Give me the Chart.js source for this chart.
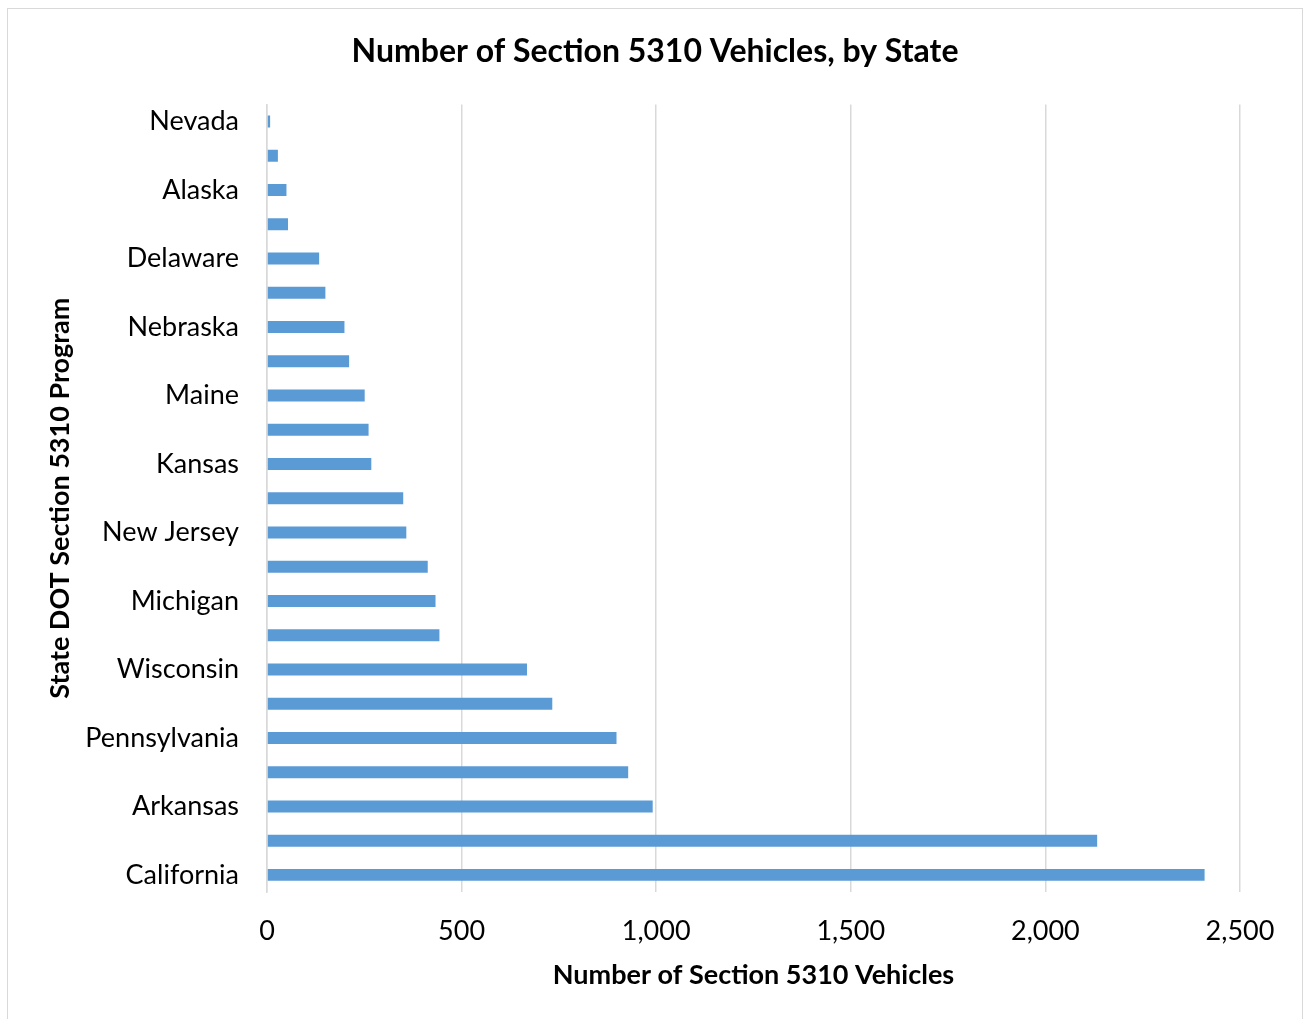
<!DOCTYPE html>
<html>
<head>
<meta charset="utf-8">
<script src="https://cdn.jsdelivr.net/npm/chart.js@4.4.1/dist/chart.umd.min.js"></script>
<style>
  body { margin: 0; background: #fff; }
  #wrap { position: relative; width: 1304px; height: 1019px; overflow: hidden; }
  #frame { position: absolute; left: 7px; top: 8px; width: 1294px; height: 1030px; border: 1px solid #d9d9d9; pointer-events: none; }
  canvas { position: absolute; left: 0; top: 0; }
</style>
</head>
<body>
<div id="wrap">
  <canvas id="stateChart" width="1304" height="1019"></canvas>
  <div id="frame"></div>
</div>
<script>
let states = ['Nevada', 'Rhode Island', 'Alaska', 'Wyoming', 'Delaware', 'Vermont', 'Nebraska', 'Idaho',
  'Maine', 'Oregon', 'Kansas', 'Iowa', 'New Jersey', 'Virginia', 'Michigan', 'Minnesota',
  'Wisconsin', 'Ohio', 'Pennsylvania', 'Florida', 'Arkansas', 'New York', 'California'];
let vehicles = [8, 28, 50, 54, 134, 150, 199, 211, 251, 261, 268, 350, 358, 413, 433, 443,
  668, 733, 898, 928, 991, 2133, 2409];
let xMin = 0, xMax = 2500, xStep = 500;

let fontFamily = 'Lato, "Open Sans", sans-serif';

let stateChartCanvas = document.getElementById('stateChart').getContext('2d');

let stateData = {
  labels: states,
  datasets: [
    {
      label           : 'Number of Section 5310 Vehicles',
      data            : vehicles,
      backgroundColor : '#5b9bd5',
      borderWidth     : 0,
      barPercentage   : 0.35,
      categoryPercentage: 1
    }
  ]
};

let stateOptions = {
  indexAxis: 'y',
  responsive: false,
  animation: false,
  layout: { padding: { left: 70, right: 64, top: 0, bottom: 0 } },
  plugins: {
    legend: { display: false },
    tooltip: { enabled: false },
    title: {
      display: true,
      text: 'Number of Section 5310 Vehicles, by State',
      color: '#000',
      font: { family: fontFamily, size: 32, weight: 'bold' },
      padding: { top: 32, bottom: 34 }
    }
  },
  scales: {
    x: {
      min: xMin,
      max: xMax,
      ticks: {
        stepSize: xStep,
        color: '#000',
        padding: 23,
        font: { family: fontFamily, size: 27 },
        callback: function (value) { return value.toLocaleString('en-US'); }
      },
      grid: { color: '#d9d9d9', lineWidth: 1.5, drawTicks: false },
      border: { display: false },
      title: {
        display: true,
        text: 'Number of Section 5310 Vehicles',
        color: '#000',
        font: { family: fontFamily, size: 27, weight: 'bold' },
        padding: { top: 0, bottom: 28 }
      },
      afterFit: function (scale) { scale.height = 1019 - 892; }
    },
    y: {
      ticks: {
        autoSkip: false,
        color: '#000',
        padding: 28,
        font: { family: fontFamily, size: 27 },
        callback: function (value, index) { return index % 2 === 0 ? states[index] : ''; }
      },
      grid: { display: false, drawTicks: false },
      border: { display: true, color: '#d9d9d9', width: 1.5 },
      title: {
        display: true,
        text: 'State DOT Section 5310 Program',
        color: '#000',
        font: { family: fontFamily, size: 27, weight: 'bold' },
        padding: { top: -26, bottom: 0 }
      },
      afterFit: function (scale) { scale.width = 267 - 70; }
    }
  }
};

new Chart(stateChartCanvas, {
  type: 'bar',
  data: stateData,
  options: stateOptions
});
</script>
</body>
</html>
